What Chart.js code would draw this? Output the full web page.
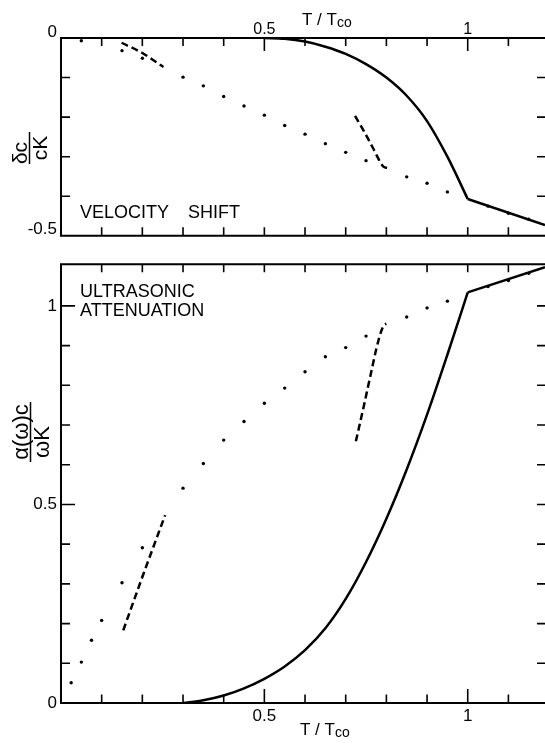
<!DOCTYPE html>
<html>
<head>
<meta charset="utf-8">
<script src="https://cdn.jsdelivr.net/npm/chart.js@4.4.0/dist/chart.umd.min.js"></script>
<style>
  body { margin: 0; background: #fff; }
  #wrap { position: relative; width: 545px; height: 744px; overflow: hidden; }
  canvas { position: absolute; left: 0; }
  #top { top: 0; }
  #bottom { top: 250px; }
</style>
</head>
<body>
<div id="wrap">
  <canvas id="top" width="545" height="250"></canvas>
  <canvas id="bottom" width="545" height="494"></canvas>
</div>
<script>
// ---- velocity shift (upper panel) ----
const shiftDotT = [0.05, 0.15, 0.2, 0.3, 0.35, 0.4, 0.45, 0.5, 0.55, 0.6, 0.65, 0.7, 0.75, 0.85, 0.9, 0.95, 1.05, 1.1, 1.15];
const shiftDotV = [-0.007, -0.032, -0.051, -0.099, -0.121, -0.148, -0.172, -0.195, -0.221, -0.243, -0.267, -0.289, -0.310, -0.351, -0.367, -0.389, -0.425, -0.443, -0.458];
const shiftDashLowT = [0.149, 0.2, 0.252];
const shiftDashLowV = [-0.012, -0.038, -0.0735];
const shiftDashHighT = [0.723, 0.745, 0.768, 0.79, 0.796, 0.802];
const shiftDashHighV = [-0.197, -0.236, -0.28, -0.322, -0.327, -0.328];
const shiftCurveT = [0.5, 0.55, 0.6, 0.65, 0.7, 0.75, 0.8, 0.85, 0.9, 0.95, 1.0];
const shiftCurveV = [0, -0.002, -0.009, -0.022, -0.040, -0.066, -0.100, -0.146, -0.210, -0.300, -0.407];
const shiftNormalT = [1.0, 1.19];
const shiftNormalV = [-0.407, -0.473];

// ---- ultrasonic attenuation (lower panel) ----
const attDotT = [0.025, 0.05, 0.075, 0.1, 0.15, 0.2, 0.3, 0.35, 0.4, 0.45, 0.5, 0.55, 0.6, 0.65, 0.7, 0.75, 0.85, 0.9, 0.95, 1.05, 1.1, 1.15];
const attDotV = [0.051, 0.103, 0.158, 0.208, 0.303, 0.391, 0.541, 0.603, 0.662, 0.709, 0.755, 0.793, 0.834, 0.872, 0.895, 0.924, 0.972, 0.995, 1.012, 1.049, 1.064, 1.082];
const attDashLowT = [0.153, 0.202, 0.256];
const attDashLowV = [0.183, 0.323, 0.473];
const attDashHighT = [0.725, 0.745, 0.762, 0.776, 0.787, 0.794, 0.8];
const attDashHighV = [0.659, 0.75, 0.83, 0.895, 0.935, 0.952, 0.955];
const attCurveT = [0.3, 0.35, 0.4, 0.45, 0.5, 0.55, 0.6, 0.65, 0.7, 0.75, 0.8, 0.85, 0.9, 0.95, 1.0];
const attCurveV = [0, 0.007, 0.019, 0.037, 0.061, 0.092, 0.133, 0.188, 0.262, 0.355, 0.464, 0.588, 0.726, 0.877, 1.034];
const attNormalT = [1.0, 1.19];
const attNormalV = [1.034, 1.0975];

// ---- ticks ----
const xTickVals = [0.1, 0.2, 0.3, 0.4, 0.5, 0.6, 0.7, 0.8, 0.9, 1.0, 1.1];
const xLabelVals = [0.5, 1];
const xLabelText = ['0.5', '1'];
const shiftTickVals = [-0.1, -0.2, -0.3, -0.4];
const shiftLabelVals = [0, -0.5];
const shiftLabelText = ['0', '-0.5'];
const attTickVals = [0.1, 0.2, 0.3, 0.4, 0.5, 0.6, 0.7, 0.8, 0.9, 1.0];
const attLabelVals = [0, 0.5, 1];
const attLabelText = ['0', '0.5', '1'];

Chart.defaults.font.family = '"Liberation Sans", Arial, sans-serif';
Chart.defaults.color = '#000';

const pts = (xs, ys) => xs.map((x, i) => ({ x: x, y: ys[i] }));
const dots = (xs, ys) => ({ data: pts(xs, ys), showLine: false, pointRadius: 1.7, pointBackgroundColor: '#000', pointBorderWidth: 0 });
const dashed = (xs, ys) => ({ data: pts(xs, ys), showLine: true, borderColor: '#000', borderWidth: 2.5, borderDash: [7, 4], pointRadius: 0, cubicInterpolationMode: 'monotone' });
const solid = (xs, ys, smooth) => ({ data: pts(xs, ys), showLine: true, borderColor: '#000', borderWidth: 2.5, pointRadius: 0, cubicInterpolationMode: smooth ? 'monotone' : 'default', tension: 0 });

function labelFor(vals, text) {
  return v => { const i = vals.indexOf(v); return i < 0 ? '' : text[i]; };
}

function drawText(ctx, t) {
  ctx.font = t.size + 'px "Liberation Sans", Arial, sans-serif';
  ctx.textAlign = 'left';
  ctx.textBaseline = 'alphabetic';
  ctx.fillText(t.text, t.x, t.y);
  if (t.sub) {
    const w = ctx.measureText(t.text).width;
    ctx.font = t.subSize + 'px "Liberation Sans", Arial, sans-serif';
    ctx.fillText(t.sub, t.x + w, t.y + 2);
  }
}

function drawFraction(ctx, f) {
  ctx.save();
  ctx.translate(f.cx, f.cy);
  ctx.rotate(-Math.PI / 2);
  ctx.font = f.size + 'px "Liberation Sans", Arial, sans-serif';
  ctx.textAlign = 'center';
  ctx.textBaseline = 'alphabetic';
  ctx.fillText(f.num, f.numShift, -2.5);
  ctx.fillText(f.den, f.denShift, f.size * 0.72 + 2.5);
  ctx.lineWidth = 1.5;
  ctx.beginPath();
  ctx.moveTo(-f.bar / 2, 0);
  ctx.lineTo(f.bar / 2, 0);
  ctx.stroke();
  ctx.restore();
}

const frameTicks = {
  id: 'frameTicks',
  afterDatasetsDraw(chart, args, o) {
    const ctx = chart.ctx, a = chart.chartArea, xs = chart.scales.x, ys = chart.scales.y;
    ctx.save();
    ctx.strokeStyle = '#000';
    ctx.fillStyle = '#000';
    ctx.lineWidth = 2;
    ctx.beginPath();
    ctx.moveTo(a.left, a.top); ctx.lineTo(a.right, a.top);
    ctx.moveTo(a.left, a.top - 1); ctx.lineTo(a.left, a.bottom + 1);
    ctx.moveTo(a.left, a.bottom); ctx.lineTo(a.right, a.bottom);
    ctx.stroke();

    ctx.lineWidth = 1.6;
    ctx.beginPath();
    xTickVals.forEach(v => {
      const px = xs.getPixelForValue(v);
      const top = o.topMajor && xLabelVals.includes(v) ? 13 : 8;
      const bot = o.bottomMajor && xLabelVals.includes(v) ? 14 : 8.5;
      ctx.moveTo(px, a.top); ctx.lineTo(px, a.top + top);
      ctx.moveTo(px, a.bottom); ctx.lineTo(px, a.bottom - bot);
    });
    o.yTicks.forEach(v => {
      const py = ys.getPixelForValue(v);
      const len = o.yMajor.includes(v) ? 14 : 9;
      ctx.moveTo(a.left, py); ctx.lineTo(a.left + len, py);
      ctx.moveTo(a.right, py); ctx.lineTo(a.right - 8, py);
    });
    ctx.stroke();

    o.texts.forEach(t => drawText(ctx, t));
    drawFraction(ctx, o.fraction);
    ctx.restore();
  }
};

// upper panel
new Chart(document.getElementById('top'), {
  type: 'scatter',
  data: {
    datasets: [
      dots(shiftDotT, shiftDotV),
      dashed(shiftDashLowT, shiftDashLowV),
      dashed(shiftDashHighT, shiftDashHighV),
      solid(shiftCurveT, shiftCurveV, true),
      solid(shiftNormalT, shiftNormalV, false)
    ]
  },
  options: {
    responsive: false,
    animation: false,
    events: [],
    layout: { padding: { top: 0, left: 0, right: 0, bottom: 10 }, autoPadding: false },
    plugins: {
      legend: { display: false },
      tooltip: { enabled: false },
      frameTicks: {
        topMajor: true, bottomMajor: false,
        yTicks: shiftTickVals, yMajor: [],
        texts: [
          { text: 'VELOCITY', x: 80, y: 218, size: 18 },
          { text: 'SHIFT', x: 188, y: 218, size: 18 },
          { text: 'T / T', sub: 'co', x: 302, y: 25, size: 17, subSize: 14 }
        ],
        fraction: { cx: 29.5, cy: 148, num: 'δc', den: 'cK', size: 21, bar: 32, numShift: -5, denShift: 0 }
      }
    },
    scales: {
      x: {
        type: 'linear', position: 'top', min: 0, max: 1.19,
        grid: { display: false, drawTicks: false }, border: { display: false },
        afterBuildTicks: s => { s.ticks = xLabelVals.map(v => ({ value: v })); },
        afterFit: s => { s.height = 38; },
        ticks: { callback: labelFor(xLabelVals, xLabelText), padding: -1, maxRotation: 0, autoSkip: false, font: { size: 16 } }
      },
      y: {
        type: 'linear', min: -0.5, max: 0,
        grid: { display: false, drawTicks: false }, border: { display: false },
        afterBuildTicks: s => { s.ticks = shiftLabelVals.map(v => ({ value: v })); },
        afterFit: s => { s.width = 61; },
        ticks: { callback: labelFor(shiftLabelVals, shiftLabelText), padding: 4, labelOffset: -6, autoSkip: false, font: { size: 17 } }
      }
    }
  },
  plugins: [frameTicks]
});

// lower panel
new Chart(document.getElementById('bottom'), {
  type: 'scatter',
  data: {
    datasets: [
      dots(attDotT, attDotV),
      dashed(attDashLowT, attDashLowV),
      dashed(attDashHighT, attDashHighV),
      solid(attCurveT, attCurveV, true),
      solid(attNormalT, attNormalV, false)
    ]
  },
  options: {
    responsive: false,
    animation: false,
    events: [],
    layout: { padding: { top: 11, left: 0, right: 0, bottom: 0 }, autoPadding: false },
    plugins: {
      legend: { display: false },
      tooltip: { enabled: false },
      frameTicks: {
        topMajor: false, bottomMajor: true,
        yTicks: attTickVals, yMajor: [0.5, 1.0],
        texts: [
          { text: 'ULTRASONIC', x: 80, y: 47, size: 18 },
          { text: 'ATTENUATION', x: 80, y: 66, size: 18 },
          { text: 'T / T', sub: 'co', x: 300, y: 485, size: 17, subSize: 14 }
        ],
        fraction: { cx: 30.5, cy: 182, num: 'α(ω)c', den: 'ωK', size: 22, bar: 60, numShift: 0, denShift: -10 }
      }
    },
    scales: {
      x: {
        type: 'linear', position: 'bottom', min: 0, max: 1.19,
        grid: { display: false, drawTicks: false }, border: { display: false },
        afterBuildTicks: s => { s.ticks = xLabelVals.map(v => ({ value: v })); },
        afterFit: s => { s.height = 41; },
        ticks: { callback: labelFor(xLabelVals, xLabelText), padding: 3, maxRotation: 0, autoSkip: false, font: { size: 17 } }
      },
      y: {
        type: 'linear', min: 0, max: 1.105,
        grid: { display: false, drawTicks: false }, border: { display: false },
        afterBuildTicks: s => { s.ticks = attLabelVals.map(v => ({ value: v })); },
        afterFit: s => { s.width = 61; },
        ticks: { callback: labelFor(attLabelVals, attLabelText), padding: 4, autoSkip: false, font: { size: 17 } }
      }
    }
  },
  plugins: [frameTicks]
});
</script>
</body>
</html>
